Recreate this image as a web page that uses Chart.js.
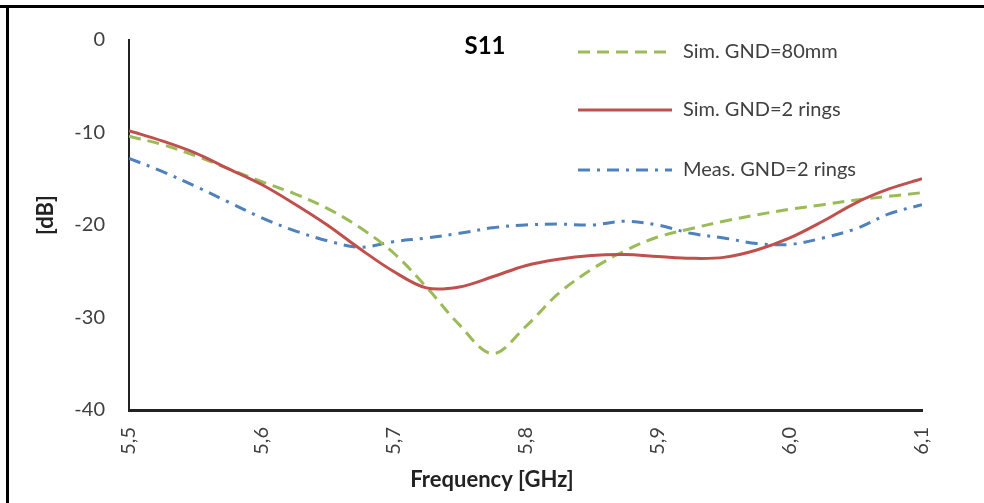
<!DOCTYPE html>
<html>
<head>
<meta charset="utf-8">
<script src="https://cdn.jsdelivr.net/npm/chart.js@4/dist/chart.umd.min.js"></script>
<style>
  html, body { margin: 0; padding: 0; background: #fff; }
  #wrap { width: 984px; height: 503px; position: relative; }
</style>
</head>
<body>
<div id="wrap"><canvas id="s11Chart" width="984" height="503"></canvas></div>
<script>
// ==================== Data ====================
const freqs = [5.5, 5.525, 5.55, 5.575, 5.6, 5.625, 5.65, 5.675, 5.7, 5.725, 5.75, 5.775, 5.8,
               5.825, 5.85, 5.875, 5.9, 5.925, 5.95, 5.975, 6.0, 6.025, 6.05, 6.075, 6.1];

const simGnd80 = [-10.4, -11.3, -12.5, -13.9, -15.3, -16.6, -18.2, -20.3, -23.0, -26.7, -30.8, -33.9, -31.0,
                  -27.4, -24.8, -22.8, -21.3, -20.4, -19.6, -18.9, -18.3, -17.8, -17.3, -16.9, -16.5];

const simRings = [-9.8, -10.9, -12.2, -13.9, -15.6, -17.7, -20.0, -22.6, -25.0, -26.8, -26.7, -25.6, -24.4,
                  -23.7, -23.3, -23.2, -23.4, -23.6, -23.5, -22.7, -21.4, -19.6, -17.6, -16.1, -15.0];

const measRings = [-12.8, -14.2, -15.8, -17.5, -19.2, -20.6, -21.7, -22.4, -21.8, -21.4, -20.9, -20.3, -20.0,
                   -19.9, -20.0, -19.6, -20.0, -20.9, -21.4, -22.0, -22.1, -21.4, -20.4, -18.8, -17.8];

const seriesNames = ['Sim. GND=80mm', 'Sim. GND=2 rings', 'Meas. GND=2 rings'];
const yTicks = [0, -10, -20, -30, -40];
const xTicks = [5.5, 5.6, 5.7, 5.8, 5.9, 6.0, 6.1];

const FONT = 'Lato, "Open Sans", sans-serif';
const TEXT = '#404040';

function toPoints(ys) {
    return freqs.map((f, i) => ({ x: f, y: ys[i] }));
}

// ==================== Plugins ====================
const frame = {
    id: 'frame',
    beforeDraw(chart) {
        const ctx = chart.ctx;
        ctx.save();
        ctx.fillStyle = '#fff';
        ctx.fillRect(0, 0, chart.width, chart.height);
        ctx.fillStyle = '#000';
        ctx.fillRect(0, 5, chart.width, 3);
        ctx.fillRect(6, 5, 3, chart.height - 5);
        ctx.restore();
    }
};

const labels = {
    id: 'labels',
    afterDraw(chart) {
        const ctx = chart.ctx;
        ctx.save();

        // title
        ctx.fillStyle = '#000';
        ctx.font = 'bold 24px ' + FONT;
        ctx.textAlign = 'center';
        ctx.textBaseline = 'middle';
        ctx.fillText('S11', 485, 46);

        // axis titles
        ctx.fillStyle = '#222';
        ctx.font = 'bold 22px ' + FONT;
        ctx.fillText('Frequency [GHz]', 492, 480);
        ctx.save();
        ctx.translate(46, 215);
        ctx.rotate(-Math.PI / 2);
        ctx.fillText('[dB]', 0, 0);
        ctx.restore();

        // legend
        const rows = [52, 110, 170];
        chart.data.datasets.forEach((ds, i) => {
            const y = rows[i];
            ctx.strokeStyle = ds.borderColor;
            ctx.lineWidth = ds.borderWidth;
            ctx.setLineDash(ds.borderDash || []);
            ctx.beginPath();
            ctx.moveTo(578, y);
            ctx.lineTo(672, y);
            ctx.stroke();
            ctx.setLineDash([]);
            ctx.fillStyle = TEXT;
            ctx.font = '20px ' + FONT;
            ctx.textAlign = 'left';
            ctx.fillText(ds.label, 683, y);
        });
        ctx.restore();
    }
};

// ==================== Chart ====================
const ctx = document.getElementById('s11Chart').getContext('2d');
const s11Chart = new Chart(ctx, {
    type: 'line',
    data: {
        datasets: [{
            label: seriesNames[0],
            data: toPoints(simGnd80),
            borderColor: '#9BBB59',
            borderWidth: 3,
            borderDash: [12, 7],
            order: 2
        }, {
            label: seriesNames[1],
            data: toPoints(simRings),
            borderColor: '#C0504D',
            borderWidth: 3,
            order: 1
        }, {
            label: seriesNames[2],
            data: toPoints(measRings),
            borderColor: '#4F81BD',
            borderWidth: 3,
            borderDash: [12, 7, 3, 7],
            order: 3
        }]
    },
    options: {
        responsive: false,
        animation: false,
        layout: { padding: { top: 40, right: 62, left: 0, bottom: 0 } },
        elements: {
            point: { radius: 0 },
            line: { tension: 0.35, fill: false }
        },
        plugins: {
            legend: { display: false },
            tooltip: { enabled: false }
        },
        scales: {
            x: {
                type: 'linear',
                min: 5.5,
                max: 6.1,
                grid: { display: false, drawTicks: false },
                border: { display: true, color: '#222', width: 3 },
                afterBuildTicks(scale) {
                    scale.ticks = xTicks.map(v => ({ value: v }));
                },
                afterFit(scale) { scale.height = 93; },
                ticks: {
                    color: TEXT,
                    font: { family: FONT, size: 20 },
                    padding: 17,
                    minRotation: 90,
                    maxRotation: 90,
                    autoSkip: false,
                    callback: v => v.toFixed(1).replace('.', ',')
                }
            },
            y: {
                min: -40,
                max: 0,
                grid: { display: false, drawTicks: false },
                border: { display: true, color: '#222', width: 2 },
                afterBuildTicks(scale) {
                    scale.ticks = yTicks.map(v => ({ value: v }));
                },
                afterFit(scale) { scale.width = 129; },
                ticks: {
                    color: TEXT,
                    font: { family: FONT, size: 20 },
                    padding: 24,
                    callback: v => String(v)
                }
            }
        }
    },
    plugins: [frame, labels]
});
</script>
</body>
</html>
